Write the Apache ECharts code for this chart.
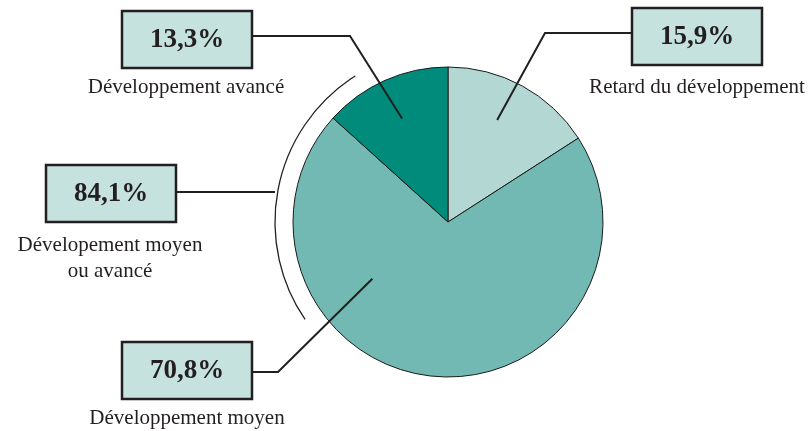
<!DOCTYPE html>
<html>
<head>
<meta charset="utf-8">
<script src="https://cdn.jsdelivr.net/npm/echarts@6/dist/echarts.min.js"></script>
<style>
  html, body { margin: 0; padding: 0; background: #ffffff; }
  #chart { width: 812px; height: 431px; }
</style>
</head>
<body>
<div id="chart"></div>
<script>
// Répartition du développement (en %)
const categories = ['Retard du développement', 'Développement moyen', 'Développement avancé'];
const shares = [15.9, 70.8, 13.3];
// Regroupement « moyen ou avancé » (indices dans categories)
const groupName = 'Dévelopement moyen\nou avancé';
const groupMembers = [1, 2];

const sliceColors = ['#b3d8d3', '#71b9b2', '#008b7a'];
const boxFill = '#c6e2de';
const ink = '#231f20';
const serif = '"Liberation Serif", "DejaVu Serif", serif';

const CX = 448, CY = 222, R = 155;

const fmt = v => v.toFixed(1).replace('.', ',') + '%';

// angle (degrés, sens horaire depuis midi) d'un point situé à `t` le long de la part i
function sliceAngle(i, t) {
  const total = shares.reduce((a, b) => a + b, 0);
  const before = shares.slice(0, i).reduce((a, b) => a + b, 0);
  return (before + t * shares[i]) / total * 360;
}
function polar(deg, r) {
  const a = deg * Math.PI / 180;
  return [CX + r * Math.sin(a), CY - r * Math.cos(a)];
}

// étiquettes : boîte, texte dessous, coude du trait de rappel, ancrage dans la part
const callouts = [
  { slice: 0, box: [632, 8], text: [697, 87], elbow: [545, 33], t: 0.45, rf: 0.73 },
  { slice: 2, box: [122, 11], text: [186, 87], elbow: [350, 36], t: 0.5, rf: 0.73 },
  { slice: 1, box: [122, 342], text: [187, 418], elbow: [278, 372], t: 0.69, rf: 0.61 }
];
const BW = 130, BH = 57;

const graphics = [];

function addBox(x, y, label) {
  graphics.push({
    type: 'rect', z: 20,
    shape: { x: x, y: y, width: BW, height: BH },
    style: { fill: boxFill, stroke: ink, lineWidth: 2.5 }
  });
  graphics.push({
    type: 'text', z: 21, x: x + BW / 2, y: y + BH / 2 + 1,
    style: {
      text: label, fill: ink, align: 'center', verticalAlign: 'middle',
      font: 'bold 27px ' + serif
    }
  });
}
function addCaption(x, y, text) {
  graphics.push({
    type: 'text', z: 21, x: x, y: y,
    style: {
      text: text, fill: ink, align: 'center', verticalAlign: 'middle',
      font: '21px ' + serif, lineHeight: 26
    }
  });
}

callouts.forEach(c => {
  addBox(c.box[0], c.box[1], fmt(shares[c.slice]));
  addCaption(c.text[0], c.text[1], categories[c.slice]);
  const anchor = polar(sliceAngle(c.slice, c.t), R * c.rf);
  const side = c.elbow[0] > c.box[0] ? c.box[0] + BW : c.box[0];
  graphics.push({
    type: 'polyline', z: 15,
    shape: { points: [[side, c.elbow[1]], c.elbow, anchor] },
    style: { stroke: ink, lineWidth: 2, fill: null }
  });
});

// accolade circulaire pour le regroupement
const groupValue = groupMembers.reduce((a, i) => a + shares[i], 0);
const arcR = 173;
const arcFrom = 235.7, arcTo = 327.6; // sens horaire depuis midi
graphics.push({
  type: 'arc', z: 10,
  shape: {
    cx: CX, cy: CY, r: arcR,
    startAngle: (arcFrom - 90) * Math.PI / 180,
    endAngle: (arcTo - 90) * Math.PI / 180,
    clockwise: true
  },
  style: { stroke: ink, lineWidth: 1.3, fill: null }
});
addBox(46, 165, fmt(groupValue));
addCaption(110, 258, groupName);
graphics.push({
  type: 'line', z: 15,
  shape: { x1: 46 + BW, y1: 192, x2: CX - arcR, y2: 192 },
  style: { stroke: ink, lineWidth: 2 }
});

const chart = echarts.init(document.getElementById('chart'), null, { renderer: 'canvas' });
chart.setOption({
  animation: false,
  backgroundColor: '#ffffff',
  series: [{
    type: 'pie',
    center: [CX, CY],
    radius: R,
    startAngle: 90,
    clockwise: true,
    silent: true,
    label: { show: false },
    labelLine: { show: false },
    itemStyle: { borderColor: '#1a1a1a', borderWidth: 1 },
    data: categories.map((name, i) => ({
      name: name, value: shares[i], itemStyle: { color: sliceColors[i] }
    }))
  }],
  graphic: graphics
});
</script>
</body>
</html>
